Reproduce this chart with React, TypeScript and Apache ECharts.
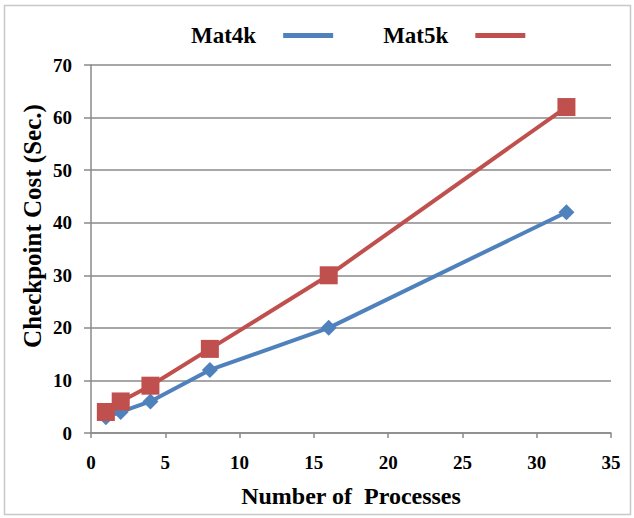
import React, { useEffect, useRef } from "react";
import * as echarts from "echarts";

const processes = [1, 2, 4, 8, 16, 32];
const mat4k = [3, 4, 6, 12, 20, 42];
const mat5k = [4, 6, 9, 16, 30, 62];

const FONT = "'Liberation Serif', 'Times New Roman', serif";
const BLUE = "#4F81BD";
const RED = "#C0504D";
const AXIS_GREY = "#8a8a8a";

export default function App() {
  const ref = useRef<HTMLDivElement>(null);

  useEffect(() => {
    if (!ref.current) return;
    const chart = echarts.init(ref.current, null, { renderer: "svg" });
    const pairs = (ys: number[]) => processes.map((x, i) => [x, ys[i]]);
    chart.setOption({
      animation: false,
      backgroundColor: "#ffffff",
      textStyle: { fontFamily: FONT },
      grid: { left: 91, right: 23, top: 65, bottom: 85 },
      legend: {
        top: 19,
        left: 186,
        align: "right",
        itemGap: 50,
        itemWidth: 50,
        itemHeight: 5,
        textStyle: { fontFamily: FONT, fontWeight: "bold", fontSize: 23, color: "#000", padding: [0, 22, 0, 0] },
        data: [
          { name: "Mat4k", icon: "rect", itemStyle: { color: BLUE } },
          { name: "Mat5k", icon: "rect", itemStyle: { color: RED } },
        ],
      },
      xAxis: {
        type: "value",
        min: 0,
        max: 35,
        interval: 5,
        name: "Number of  Processes",
        nameLocation: "middle",
        nameGap: 51,
        nameTextStyle: { fontFamily: FONT, fontWeight: "bold", fontSize: 24, color: "#000" },
        axisLine: { show: true, lineStyle: { color: AXIS_GREY, width: 1.5 } },
        axisTick: { show: true, length: 5, lineStyle: { color: AXIS_GREY, width: 1.5 } },
        axisLabel: { margin: 20, fontFamily: FONT, fontWeight: "bold", fontSize: 19, color: "#000" },
        splitLine: { show: false },
      },
      yAxis: {
        type: "value",
        min: 0,
        max: 70,
        interval: 10,
        axisLine: { show: true, lineStyle: { color: AXIS_GREY, width: 1.5 } },
        axisTick: { show: true, length: 7, lineStyle: { color: AXIS_GREY, width: 1.5 } },
        axisLabel: { margin: 19, fontFamily: FONT, fontWeight: "bold", fontSize: 19, color: "#000" },
        splitLine: { show: true, lineStyle: { color: AXIS_GREY, width: 1.5 } },
      },
      graphic: [
        {
          type: "rect",
          shape: { x: 4.5, y: 5.5, width: 626, height: 509 },
          style: { fill: "none", stroke: "#c8c8c8", lineWidth: 1.5 },
          silent: true,
        },
        {
          type: "text",
          x: 32,
          y: 226,
          rotation: Math.PI / 2,
          style: {
            text: "Checkpoint Cost (Sec.)",
            fontFamily: FONT,
            fontWeight: "bold",
            fontSize: 25,
            fill: "#000",
            align: "center",
            verticalAlign: "middle",
          },
        },
      ],
      series: [
        {
          name: "Mat4k",
          type: "line",
          data: pairs(mat4k),
          symbol: "diamond",
          symbolSize: 16,
          lineStyle: { color: BLUE, width: 4 },
          itemStyle: { color: BLUE },
          z: 2,
        },
        {
          name: "Mat5k",
          type: "line",
          data: pairs(mat5k),
          symbol: "rect",
          symbolSize: 18,
          lineStyle: { color: RED, width: 4 },
          itemStyle: { color: RED },
          z: 3,
        },
      ],
    });
    return () => chart.dispose();
  }, []);

  return (
    <div
      ref={ref}
      style={{ position: "fixed", left: 0, top: 0, width: 634, height: 518 }}
    />
  );
}
